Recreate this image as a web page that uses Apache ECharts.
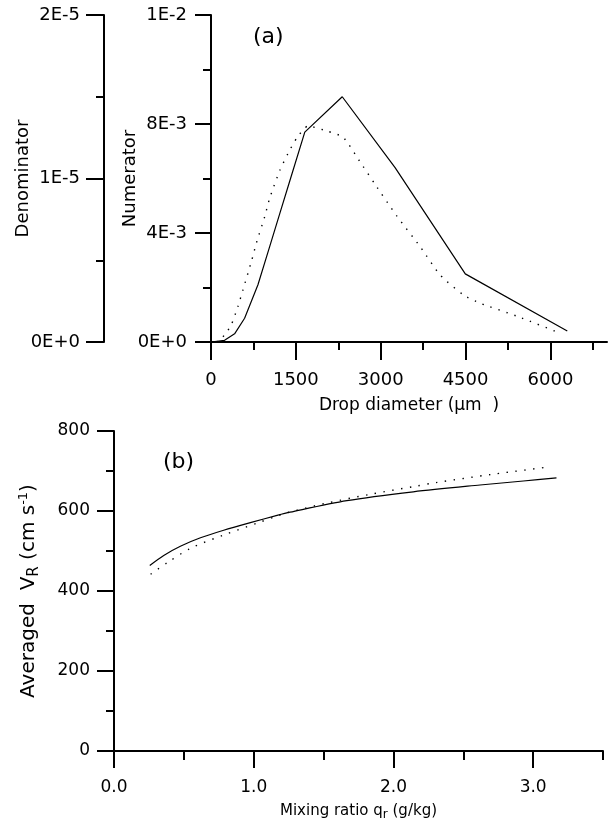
<!DOCTYPE html>
<html>
<head>
<meta charset="utf-8">
<script src="https://cdn.jsdelivr.net/npm/echarts@6.0.0/dist/echarts.min.js"></script>
<style>
html,body{margin:0;padding:0;background:#fff;}
#chart{width:609px;height:824px;}
</style>
</head>
<body>
<div id="chart"></div>
<script>
// ---- Panel (a): drop-size distributions ----
const numDiameter = [0, 240, 417, 594, 830, 1037, 1214, 1391, 1658, 2320, 3254, 4495, 6298];
const numValue    = [0, 0.00006, 0.0003, 0.00087, 0.0021, 0.0035, 0.0047, 0.0059, 0.0077, 0.0090, 0.0064, 0.0025, 0.0004];

const denDiameter = [100, 151, 270, 358, 475, 564, 713, 801, 949, 1037, 1215, 1362, 1521, 1716, 2043, 2337, 2621, 2899, 3284, 3697, 4051, 4465, 4761, 5399, 6179];
const denValue    = [0, 0.08e-6, 0.57e-6, 1.04e-6, 2.16e-6, 3.18e-6, 4.91e-6, 6.04e-6, 7.66e-6, 8.79e-6, 10.48e-6, 11.54e-6, 12.50e-6, 13.21e-6, 12.91e-6, 12.52e-6, 11.09e-6, 9.65e-6, 7.71e-6, 5.83e-6, 4.10e-6, 2.87e-6, 2.37e-6, 1.59e-6, 0.53e-6];

const diamMajorTicks = [0, 1500, 3000, 4500, 6000];
const diamMinorTicks = [750, 2250, 3750, 5250, 6750];

// ---- Panel (b): averaged fall speed vs mixing ratio ----
const solidQ = [0.256, 0.356, 0.475, 0.619, 0.785, 0.976, 1.167, 1.26, 1.667, 2.142, 2.62, 2.93, 3.167];
const solidV = [464, 489, 512, 533, 552, 571, 589, 597, 626, 648, 665, 675, 683];

const dottedQ = [0.262, 0.381, 0.548, 0.785, 1.047, 1.167, 1.239, 1.5, 1.833, 2.167, 2.30, 2.703, 3.112];
const dottedV = [442, 470.7, 506.7, 540, 572.5, 587.5, 595.7, 618, 641.7, 662.5, 670.8, 691.5, 710];

const qMajorTicks = [0, 1, 2, 3];
const qMinorTicks = [0.5, 1.5, 2.5, 3.5];

const zip = (a, b) => a.map((v, i) => [v, b[i]]);
const FONT = 'DejaVu Sans';
const BLACK = '#000';
const axisLine = {show: true, onZero: false, lineStyle: {color: BLACK, width: 2}};
const noLine = {show: false, onZero: false};
const expFmt = v => Number(v).toExponential(0).toUpperCase();

const chart = echarts.init(document.getElementById('chart'));
chart.setOption({
  animation: false,
  backgroundColor: '#fff',
  textStyle: {fontFamily: FONT, color: BLACK},
  grid: [
    {left: 211, top: 15, width: 396, height: 327, containLabel: false, outerBoundsMode: 'none'},
    {left: 114, top: 431, width: 489, height: 320, containLabel: false, outerBoundsMode: 'none'}
  ],
  xAxis: [
    {
      gridIndex: 0, type: 'value', position: 'bottom', min: 0, max: 7000,
      axisLine: axisLine,
      axisTick: {show: true, customValues: diamMajorTicks, length: 18, lineStyle: {color: BLACK, width: 2}},
      axisLabel: {customValues: diamMajorTicks, margin: 29, fontSize: 18, color: BLACK, fontFamily: FONT,
                  formatter: v => String(v)},
      splitLine: {show: false},
      name: 'Drop diameter (\u03bcm  )', nameLocation: 'middle', nameGap: 55, nameMoveOverlap: false,
      nameTextStyle: {fontSize: 17, color: BLACK, fontFamily: FONT}
    },
    {
      gridIndex: 0, type: 'value', position: 'bottom', min: 0, max: 7000,
      axisLine: noLine,
      axisTick: {show: true, customValues: diamMinorTicks, length: 8, lineStyle: {color: BLACK, width: 2}},
      axisLabel: {show: false},
      splitLine: {show: false}
    },
    {
      gridIndex: 1, type: 'value', position: 'bottom', min: 0, max: 3.5,
      axisLine: axisLine,
      axisTick: {show: true, customValues: qMajorTicks, length: 17, lineStyle: {color: BLACK, width: 2}},
      axisLabel: {customValues: qMajorTicks, margin: 28, fontSize: 17, color: BLACK, fontFamily: FONT,
                  formatter: v => Number(v).toFixed(1)},
      splitLine: {show: false},
      name: 'Mixing ratio q{sub|r} (g/kg)', nameLocation: 'middle', nameGap: 51, nameMoveOverlap: false,
      nameTextStyle: {fontSize: 15, color: BLACK, fontFamily: FONT, lineHeight: 18,
        rich: {sub: {fontSize: 12, fontFamily: FONT, color: BLACK, padding: [7, 0, 0, 0]}}}
    },
    {
      gridIndex: 1, type: 'value', position: 'bottom', min: 0, max: 3.5,
      axisLine: noLine,
      axisTick: {show: true, customValues: qMinorTicks, length: 9, lineStyle: {color: BLACK, width: 2}},
      axisLabel: {show: false},
      splitLine: {show: false}
    }
  ],
  yAxis: [
    {
      gridIndex: 0, type: 'value', position: 'left', min: 0, max: 0.012, interval: 0.004,
      axisLine: axisLine,
      axisTick: {show: true, length: 16, lineStyle: {color: BLACK, width: 2}},
      minorTick: {show: true, splitNumber: 2, length: 8, lineStyle: {color: BLACK, width: 2}},
      axisLabel: {formatter: expFmt, margin: 24, fontSize: 18, color: BLACK, fontFamily: FONT},
      splitLine: {show: false},
      name: 'Numerator', nameLocation: 'middle', nameRotate: 90, nameGap: 72, nameMoveOverlap: false,
      nameTextStyle: {fontSize: 18, color: BLACK, fontFamily: FONT}
    },
    {
      gridIndex: 0, type: 'value', position: 'left', offset: 107,
      min: 0, max: 2e-5, interval: 1e-5,
      axisLine: axisLine,
      axisTick: {show: true, length: 18, lineStyle: {color: BLACK, width: 2}},
      minorTick: {show: true, splitNumber: 2, length: 8, lineStyle: {color: BLACK, width: 2}},
      axisLabel: {formatter: expFmt, margin: 24, fontSize: 18, color: BLACK, fontFamily: FONT},
      splitLine: {show: false},
      name: 'Denominator', nameLocation: 'middle', nameRotate: 90, nameGap: 72, nameMoveOverlap: false,
      nameTextStyle: {fontSize: 18, color: BLACK, fontFamily: FONT}
    },
    {
      gridIndex: 1, type: 'value', position: 'left', min: 0, max: 800, interval: 200,
      axisLine: axisLine,
      axisTick: {show: true, length: 17, lineStyle: {color: BLACK, width: 2}},
      minorTick: {show: true, splitNumber: 2, length: 8, lineStyle: {color: BLACK, width: 2}},
      axisLabel: {margin: 24, fontSize: 17, color: BLACK, fontFamily: FONT},
      splitLine: {show: false},
      name: 'Averaged  V{sub|R} (cm s{sup|-1})', nameLocation: 'middle', nameRotate: 90, nameGap: 72, nameMoveOverlap: false,
      nameTextStyle: {fontSize: 20, color: BLACK, fontFamily: FONT, lineHeight: 26,
        rich: {
          sub: {fontSize: 15, fontFamily: FONT, color: BLACK, padding: [10, 0, 0, 0]},
          sup: {fontSize: 13, fontFamily: FONT, color: BLACK, padding: [0, 0, 10, 0]}
        }}
    }
  ],
  graphic: [
    {type: 'text', left: 253, top: 26, style: {text: '(a)', fontSize: 22, fontFamily: FONT, fill: BLACK}},
    {type: 'text', left: 163, top: 451, style: {text: '(b)', fontSize: 22, fontFamily: FONT, fill: BLACK}}
  ],
  series: [
    {
      name: 'Numerator', type: 'line', xAxisIndex: 0, yAxisIndex: 0,
      data: zip(numDiameter, numValue), showSymbol: false, symbol: 'none',
      lineStyle: {color: BLACK, width: 1.2}
    },
    {
      name: 'Denominator', type: 'line', xAxisIndex: 0, yAxisIndex: 1,
      data: zip(denDiameter, denValue), showSymbol: false, symbol: 'none', smooth: 0.2,
      lineStyle: {color: BLACK, width: 1.4, type: [1.4, 7]}
    },
    {
      name: 'Solid', type: 'line', xAxisIndex: 2, yAxisIndex: 2,
      data: zip(solidQ, solidV), showSymbol: false, symbol: 'none', smooth: 0.3,
      lineStyle: {color: BLACK, width: 1.2}
    },
    {
      name: 'Dotted', type: 'line', xAxisIndex: 2, yAxisIndex: 2,
      data: zip(dottedQ, dottedV), showSymbol: false, symbol: 'none', smooth: 0.3,
      lineStyle: {color: BLACK, width: 1.4, type: [1.4, 7.5]}
    }
  ]
});
</script>
</body>
</html>
